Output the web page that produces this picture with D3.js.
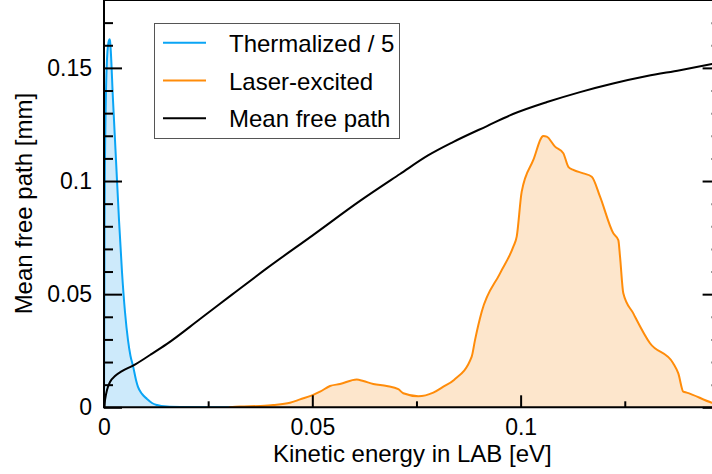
<!DOCTYPE html>
<html>
<head>
<meta charset="utf-8">
<script src="https://cdn.jsdelivr.net/npm/d3@7/dist/d3.min.js"></script>
<style>
  html, body { margin: 0; padding: 0; background: #fff; }
  svg { display: block; font-family: "Liberation Sans", Arial, Helvetica, sans-serif; }
</style>
</head>
<body>
<svg id="chart" width="712" height="474"></svg>
<script>
// Kinetic energy [eV] and distribution values (thermalized divided by 5)
const thermalE = [0, 0.00012, 0.00024, 0.00048, 0.00072, 0.00096, 0.00132, 0.00144, 0.00216, 0.00288, 0.0036, 0.00432, 0.00504, 0.00576, 0.00636, 0.00696, 0.00768, 0.00816, 0.00912, 0.01032, 0.01152, 0.01272, 0.01512, 0.01824, 0.025, 0.035];
const thermalV = [0, 0.08, 0.11, 0.140, 0.154, 0.160, 0.1627, 0.1620, 0.1358, 0.1093, 0.0828, 0.0598, 0.0421, 0.0297, 0.0227, 0.0183, 0.0121, 0.0090, 0.0059, 0.0037, 0.0019, 0.0010, 0.0003, 0.0001, 0, 0];

const laserE = [0.03, 0.03265, 0.03745, 0.04064, 0.04465, 0.04705, 0.0501, 0.05185, 0.05425, 0.05665, 0.06066, 0.06224, 0.06465, 0.06786, 0.07064, 0.07184, 0.07544, 0.07904, 0.08145, 0.08401, 0.08826, 0.08905, 0.09066, 0.09506, 0.09825, 0.09906, 0.10026, 0.10305, 0.10545, 0.10627, 0.10826, 0.11025, 0.11145, 0.11265, 0.11505, 0.11707, 0.11906, 0.12225, 0.12345, 0.12386, 0.12465, 0.12705, 0.13106, 0.13665, 0.13785, 0.13905, 0.13987, 0.14594, 0.148];
const laserV = [0, 0.0003, 0.0006, 0.0010, 0.0020, 0.0035, 0.0054, 0.0069, 0.0094, 0.0103, 0.0123, 0.0116, 0.0103, 0.0094, 0.0080, 0.0062, 0.0049, 0.0065, 0.0091, 0.0121, 0.0224, 0.0297, 0.0422, 0.0592, 0.0710, 0.0754, 0.0953, 0.1093, 0.1199, 0.1196, 0.1152, 0.1123, 0.1063, 0.1049, 0.1034, 0.1019, 0.0931, 0.0769, 0.0739, 0.0666, 0.0504, 0.0415, 0.0283, 0.0194, 0.0150, 0.0069, 0.0065, 0.0020, 0.0010];

// Mean free path [mm] versus kinetic energy
const mfpE = [0, 0.00024, 0.00072, 0.00144, 0.00264, 0.00432, 0.00696, 0.01104, 0.01512, 0.02304, 0.03072, 0.03913, 0.05017, 0.06145, 0.07105, 0.07777, 0.08377, 0.09193, 0.09818, 0.10634, 0.11426, 0.12218, 0.13034, 0.13826, 0.14594, 0.148];
const mfpV = [0, 0.0032, 0.0076, 0.0112, 0.0138, 0.0160, 0.0184, 0.0231, 0.0280, 0.0390, 0.0498, 0.0615, 0.0761, 0.0912, 0.1031, 0.1113, 0.1172, 0.1243, 0.1296, 0.1349, 0.1393, 0.1431, 0.1464, 0.1490, 0.1517, 0.1524];

// Axis ticks
const xMajor = [0, 0.05, 0.1];
const xMinor = [0.025, 0.075, 0.125];
const yMajor = [0, 0.05, 0.1, 0.15];
const yMinor = [0.01, 0.02, 0.03, 0.04, 0.06, 0.07, 0.08, 0.09, 0.11, 0.12, 0.13, 0.14, 0.16, 0.17];

const legendItems = ["Thermalized / 5", "Laser-excited", "Mean free path"];
const colors = { thermal: "#0aa5f5", laser: "#ff8c0a", mfp: "#000000" };
const fills = { thermal: "#cdeafb", laser: "#fde6cc" };

const plotL = 104, plotR = 720.6, plotT = 0, plotB = 407.3;
const svg = d3.select("#chart");

const x = d3.scaleLinear().domain([0, 0.148]).range([plotL, plotR]);
const y = d3.scaleLinear().domain([0, 0.18]).range([plotB, plotT]);

const toPts = (E, V) => E.map((e, i) => [e, V[i]]);
const thermal = toPts(thermalE, thermalV);
const laser = toPts(laserE, laserV);
const mfp = toPts(mfpE, mfpV);

const plot = svg.append("g");
plot.append("clipPath").attr("id", "clip")
  .append("rect").attr("x", plotL).attr("y", plotT).attr("width", plotR - plotL).attr("height", plotB - plotT);
const inner = plot.append("g").attr("clip-path", "url(#clip)");

const area = d3.area().x(d => x(d[0])).y0(y(0)).y1(d => y(d[1])).curve(d3.curveMonotoneX);
const line = d3.line().x(d => x(d[0])).y(d => y(d[1])).curve(d3.curveMonotoneX);

inner.append("path").datum(thermal).attr("d", area).attr("fill", fills.thermal);
inner.append("path").datum(laser).attr("d", area).attr("fill", fills.laser);
inner.append("path").datum(thermal).attr("d", line).attr("fill", "none").attr("stroke", colors.thermal).attr("stroke-width", 2);
inner.append("path").datum(laser).attr("d", line).attr("fill", "none").attr("stroke", colors.laser).attr("stroke-width", 2);
inner.append("path").datum(mfp).attr("d", line).attr("fill", "none").attr("stroke", colors.mfp).attr("stroke-width", 2);

// Axes with inward ticks
const fmt = d => String(+d.toFixed(3));
function styleAxis(g) {
  g.select(".domain").remove();
  g.selectAll(".tick line").attr("stroke", "#000").attr("stroke-width", 2);
  g.selectAll("text").attr("fill", "#000").attr("font-size", 23).attr("font-family", "Liberation Sans, Arial, sans-serif");
}
svg.append("g").attr("transform", `translate(0,${plotB})`)
  .call(d3.axisBottom(x).tickValues(xMajor).tickFormat(fmt).tickSize(-12).tickPadding(11)).call(styleAxis);
svg.append("g").attr("transform", `translate(0,${plotB})`)
  .call(d3.axisBottom(x).tickValues(xMinor).tickFormat("").tickSize(-6)).call(styleAxis);
svg.append("g").attr("transform", `translate(${plotL},0)`)
  .call(d3.axisLeft(y).tickValues(yMajor).tickFormat(fmt).tickSize(-18).tickPadding(12)).call(styleAxis);
svg.append("g").attr("transform", `translate(${plotL},0)`)
  .call(d3.axisLeft(y).tickValues(yMinor).tickFormat("").tickSize(-9)).call(styleAxis);
svg.append("g").attr("transform", `translate(${plotR},0)`)
  .call(d3.axisRight(y).tickValues(yMajor).tickFormat("").tickSize(-18)).call(styleAxis);
svg.append("g").attr("transform", `translate(${plotR},0)`)
  .call(d3.axisRight(y).tickValues(yMinor).tickFormat("").tickSize(-9)).call(styleAxis);

// Frame
svg.append("path")
  .attr("d", `M${plotR},${plotT}H${plotL}V${plotB}H${plotR}`)
  .attr("fill", "none").attr("stroke", "#000").attr("stroke-width", 2);

// Axis titles
svg.append("text").attr("x", (plotL + plotR) / 2).attr("y", 462)
  .attr("text-anchor", "middle").attr("font-size", 24).attr("fill", "#000")
  .text("Kinetic energy in LAB [eV]");
svg.append("text").attr("transform", `translate(32,${(plotT + plotB) / 2}) rotate(-90)`)
  .attr("text-anchor", "middle").attr("font-size", 24).attr("fill", "#000")
  .text("Mean free path [mm]");

// Legend
const lg = svg.append("g");
lg.append("rect").attr("x", 154.5).attr("y", 23.5).attr("width", 245).attr("height", 115)
  .attr("fill", "#fff").attr("stroke", "#555").attr("stroke-width", 1);
const keys = ["thermal", "laser", "mfp"];
legendItems.forEach((t, i) => {
  const cy = 42.7 + i * 37.8;
  lg.append("line").attr("x1", 163).attr("x2", 206).attr("y1", cy).attr("y2", cy)
    .attr("stroke", colors[keys[i]]).attr("stroke-width", 2);
  lg.append("text").attr("x", 229).attr("y", cy + 9).attr("font-size", 24).attr("fill", "#000").text(t);
});
</script>
</body>
</html>
